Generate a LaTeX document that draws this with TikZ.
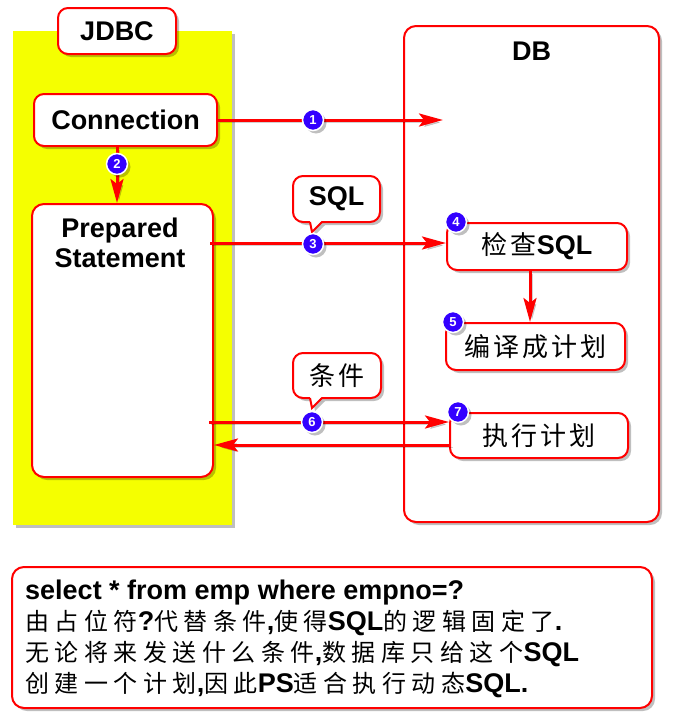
\documentclass[tikz,border=0pt]{standalone}
\usepackage{fontspec}
\setmainfont{Liberation Sans}
\newfontfamily\cjkfont[LetterSpace=23]{Noto Sans CJK SC}
\newfontfamily\cjkfontd[LetterSpace=12]{Noto Sans CJK SC}
\usetikzlibrary{shadows,arrows.meta,calc}
\definecolor{jred}{RGB}{255,0,0}
\definecolor{jyel}{RGB}{245,255,0}
\definecolor{jblue}{RGB}{51,0,255}
\newcommand\zb[1]{{\cjkfont\mdseries\fontsize{24}{31}\selectfont #1}}
\newcommand\zd[1]{{\cjkfontd\mdseries\fontsize{26}{30}\selectfont #1}}
\begin{document}
\begin{tikzpicture}[x=1pt,y=-1pt,
  shd/.style={drop shadow={shadow xshift=3pt,shadow yshift=-3pt,opacity=0.25,fill=black}},
  rbox/.style={draw=jred,line width=2pt,fill=white,rounded corners=10pt,shd,inner sep=0pt,
    font=\fontsize{27}{30}\selectfont\bfseries},
  lbl/.style={inner sep=0pt,font=\fontsize{27}{30}\selectfont\bfseries},
  arr/.style={draw=jred,line width=3pt,-{Stealth[length=24pt,width=13pt,inset=5pt]},
    preaction={draw=black,opacity=0.18,transform canvas={shift={(2pt,-2.5pt)}}}},
  numc/.style={circle,fill=jblue,draw=white,line width=1.5pt,minimum size=21pt,inner sep=0pt,
    text=white,font=\fontsize{13}{13}\selectfont\bfseries,shd},
]
\useasboundingbox (0,0) rectangle (673,720);
\fill[white] (0,0) rectangle (673,720);

% JDBC area
\node[fill=jyel,minimum width=219pt,minimum height=494pt,inner sep=0pt,shd] (area) at (122.5,278) {};
% DB area
\node[rbox,rounded corners=12pt,minimum width=255pt,minimum height=496pt] (db) at (531.5,274) {};
\node[lbl,anchor=base] (dbt) at (531.5,60) {DB};

\node[rbox,minimum width=118pt,minimum height=46pt] (jdbc) at (117,31) {JDBC};
\node[rbox,minimum width=183pt,minimum height=52pt] (conn) at (125.5,120) {Connection};
\node[rbox,rounded corners=12pt,minimum width=181pt,minimum height=273pt] (ps) at (122.5,340.5) {};
\node[lbl,anchor=base] (pst1) at (120,237) {Prepared};
\node[lbl,anchor=base] (pst2) at (120,267) {Statement};

% DB boxes
\node[rbox,minimum width=180pt,minimum height=47pt] (chk) at (537,246.5) {\zd{检查}SQL};
\node[rbox,minimum width=179pt,minimum height=47pt] (comp) at (535.5,346.5) {\zd{编译成计划}};
\node[rbox,minimum width=178pt,minimum height=45pt] (ex) at (539,435.5) {\zd{执行计划}};

% connectors
\coordinate (e1) at (443,120);
\draw[arr] (conn.east) -- (e1);
\draw[arr] ([xshift=-8.5pt]conn.south) coordinate (s2) -- (s2 |- ps.north);
\draw[arr] ([xshift=-4pt,yshift=3.5pt]ps.east |- chk.west) -- ([yshift=3.5pt]chk.west);
\draw[arr] ([xshift=-7pt]chk.south) coordinate (s4) -- (s4 |- comp.north);
\draw[arr] ([xshift=-5pt,yshift=13.5pt]ps.east |- ex.west) -- ([yshift=13.5pt]ex.west);
\draw[arr] ([xshift=2pt,yshift=-9.5pt]ex.west) -- ([yshift=-9.5pt]ex.west -| ps.east);

% callouts
\node[rbox,minimum width=87pt,minimum height=46pt] (sqlc) at (336.5,199) {SQL};
\fill[black,opacity=0.25] (313,225) -- (325,225) -- (315,235) -- cycle;
\fill[white] (310,220.5) -- (322,220.5) -- (312,232) -- cycle;
\draw[jred,line width=2pt,line join=miter] (310,222) -- (312,232) -- (322,222);

\node[rbox,minimum width=88pt,minimum height=45pt] (condc) at (337,375.5) {\zd{条件}};
\fill[black,opacity=0.25] (313,401) -- (325,401) -- (315,411) -- cycle;
\fill[white] (310,396.5) -- (322,396.5) -- (312,408) -- cycle;
\draw[jred,line width=2pt,line join=miter] (310,398) -- (312,408) -- (322,398);

% numbered circles
\node[numc] (n1) at (313,120) {1};
\node[numc] (n2) at (117,164) {2};
\node[numc] (n3) at (313,244) {3};
\node[numc] (n4) at (456,222) {4};
\node[numc] (n5) at (453,322) {5};
\node[numc] (n6) at (312,422) {6};
\node[numc] (n7) at (458,412) {7};

% bottom note
\node[rbox,rounded corners=12pt,minimum width=640pt,minimum height=141pt] (note) at (332,637.5) {};
\begin{scope}[every node/.style={anchor=base west,inner sep=0pt,font=\fontsize{27}{31}\selectfont\bfseries}]
\node (l1) at (25,599) {select * from emp where empno=?};
\node (l2) at (25,630) {\zb{由占位符}?\zb{代替条件},\zb{使得}SQL\zb{的逻辑固定了}.};
\node (l3) at (25,661) {\zb{无论将来发送什么条件},\zb{数据库只给这个}SQL};
\node (l4) at (25,692) {\zb{创建一个计划},\zb{因此}PS\zb{适合执行动态}SQL.};
\end{scope}
\end{tikzpicture}
\end{document}
